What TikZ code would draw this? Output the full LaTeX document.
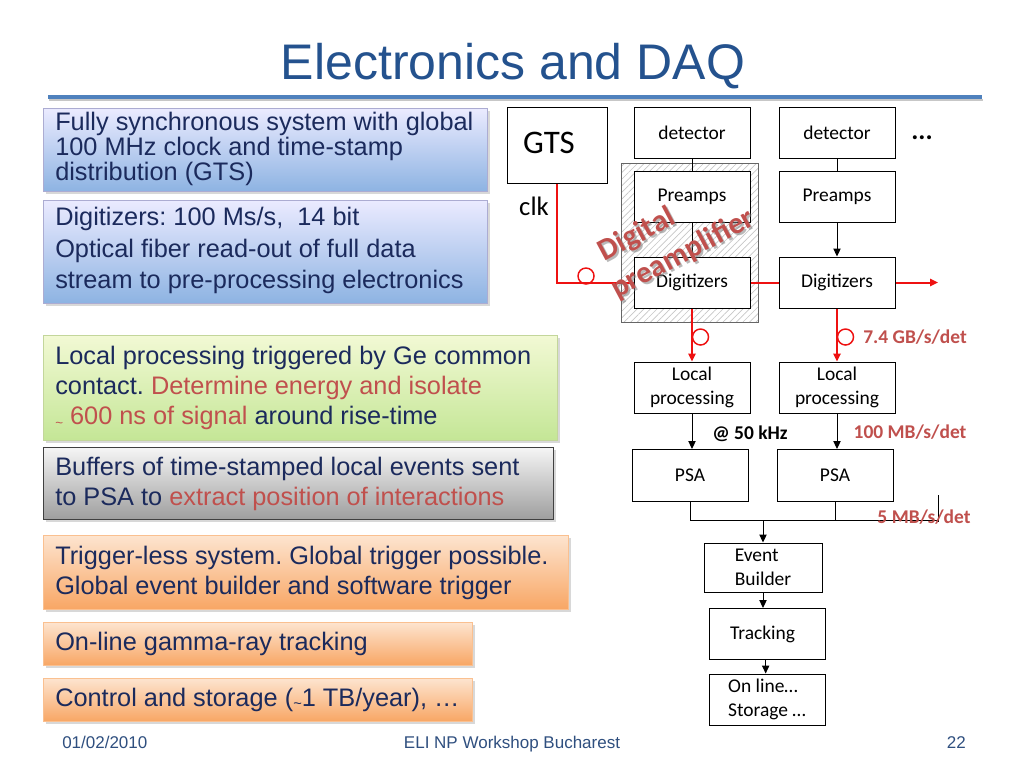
\documentclass[tikz,border=0pt]{standalone}
\usepackage{fontspec}
\setmainfont{Liberation Sans}
\newfontfamily\dfont{Carlito}
\usetikzlibrary{arrows.meta,patterns.meta,shadows,calc}
\frenchspacing
\definecolor{navy}{HTML}{1B2A5C}
\definecolor{rtxt}{HTML}{C0504D}
\definecolor{ttl}{HTML}{24528E}
\definecolor{rulec}{HTML}{4F81BD}
\definecolor{foot}{HTML}{2F4F7F}
\definecolor{wire}{HTML}{EE1111}
\tikzset{
  lbox/.style={anchor=north west, inner sep=0pt, line width=0.75pt,
    drop shadow={shadow xshift=1.5pt, shadow yshift=-1.5pt, opacity=0.3}},
  bluebox/.style={draw=blue!30!gray!50, top color=blue!8!white, bottom color={rgb,255:red,141;green,179;blue,226}},
  greenbox/.style={draw={rgb,255:red,195;green,214;blue,155}, top color={rgb,255:red,242;green,249;blue,212}, bottom color={rgb,255:red,196;green,230;blue,150}},
  graybox/.style={draw=black!75, top color=black!4, bottom color=black!38},
  orangebox/.style={draw={rgb,255:red,250;green,192;blue,144}, top color={rgb,255:red,253;green,228;blue,207}, bottom color={rgb,255:red,248;green,166;blue,100}},
  ltext/.style={anchor=west, align=left, inner sep=0pt, text=navy},
  dbox/.style={draw, line width=0.75pt, fill=white, minimum width=87pt, minimum height=38.25pt,
    inner sep=1pt, align=center, font=\dfont\fontsize{14.6}{18}\selectfont},
  dlabel/.style={inner sep=0pt, font=\dfont\bfseries\fontsize{14.6}{18}\selectfont},
  circ/.style={circle, draw=wire, line width=1.1pt, minimum size=12pt, inner sep=0pt},
  redw/.style={draw=wire, line width=1.5pt},
  blk/.style={draw, line width=0.75pt},
  tip/.style={-{Triangle[length=6pt,width=5.5pt]}},
  foottext/.style={inner sep=0pt, text=foot, font=\fontsize{12.75}{15}\selectfont},
  dpfont/.style={inner sep=0pt, rotate=28, font=\dfont\bfseries\fontsize{23}{26}\selectfont},
}
\begin{document}
\begin{tikzpicture}[x=0.75pt,y=-0.75pt]
\useasboundingbox[fill=white] (0,0) rectangle (1024,768);

% title
\node[anchor=base, inner sep=0pt, text=ttl, font=\fontsize{37.5}{40}\selectfont] (title) at (513,79) {Electronics and DAQ};
\draw[black!22, line width=2pt] (49,100) -- (983,100);
\draw[rulec, line width=2.4pt] (48,97) -- (982,97);

% left boxes
\node[lbox, bluebox, minimum width=444*0.75pt, minimum height=83*0.75pt] (b1) at (43,108) {};
\node[ltext, font=\fontsize{19}{15}\selectfont] (t1) at ([xshift=9pt,yshift=1pt]b1.west)
  {Fully synchronous system with global\\100 MHz clock and time-stamp\\distribution (GTS)};

\node[lbox, bluebox, minimum width=444*0.75pt, minimum height=103*0.75pt] (b2) at (43,200) {};
\node[ltext, font=\fontsize{19}{23.5}\selectfont] (t2) at ([xshift=9pt,yshift=1pt]b2.west)
  {Digitizers: 100 Ms/s,\ \ 14 bit\\Optical fiber read-out of full data\\stream to pre-processing electronics};

\node[lbox, greenbox, minimum width=514*0.75pt, minimum height=105*0.75pt] (b3) at (43,335) {};
\node[ltext, font=\fontsize{19}{22.75}\selectfont] (t3) at ([xshift=9pt]b3.west)
  {Local processing triggered by Ge common\\contact. \textcolor{rtxt}{Determine energy and isolate}\\\textcolor{rtxt}{\raisebox{-2pt}{\fontsize{10}{10}\selectfont\textasciitilde} 600 ns of signal} around rise-time};

\node[lbox, graybox, minimum width=510*0.75pt, minimum height=72*0.75pt] (b4) at (43,447) {};
\node[ltext, font=\fontsize{19}{22.5}\selectfont] (t4) at ([xshift=9pt]b4.west)
  {Buffers of time-stamped local events sent\\to PSA to \textcolor{rtxt}{extract position of interactions}};

\node[lbox, orangebox, minimum width=525*0.75pt, minimum height=74*0.75pt] (b5) at (43,535) {};
\node[ltext, font=\fontsize{19}{22.5}\selectfont] (t5) at ([xshift=9pt]b5.west)
  {Trigger-less system. Global trigger possible.\\Global event builder and software trigger};

\node[lbox, orangebox, minimum width=429*0.75pt, minimum height=43*0.75pt] (b6) at (43,622) {};
\node[ltext, font=\fontsize{19}{22.5}\selectfont] (t6) at ([xshift=9pt]b6.west)
  {On-line gamma-ray tracking};

\node[lbox, orangebox, minimum width=429*0.75pt, minimum height=43*0.75pt] (b7) at (43,678) {};
\node[ltext, font=\fontsize{19}{22.5}\selectfont] (t7) at ([xshift=9pt]b7.west)
  {Control and storage (\raisebox{-1.5pt}{\fontsize{11}{11}\selectfont\textasciitilde}1 TB/year), …};

% diagram
\path[fill=white, draw=black!60, line width=0.75pt] (621,163) rectangle (758,322);
\path[pattern={Lines[angle=45, distance=3.5pt, line width=0.5pt]}, pattern color=black!22] (621,163) rectangle (758,322);
\draw[black!60, line width=0.75pt] (621,163) rectangle (758,322);

\node[dbox, minimum width=75pt, minimum height=57pt] (gts) at (557,145) {};
\node[inner sep=0pt, font=\dfont\fontsize{24.7}{28}\selectfont] (gtst) at (549,143) {GTS};
\node[inner sep=0pt, font=\dfont\fontsize{20}{24}\selectfont] (clk) at (534,206) {clk};

\node[dbox] (det1) at (692,132.5) {detector};
\node[dbox] (det2) at (837,132.5) {detector};
\node[anchor=base, inner sep=0pt, font=\dfont\bfseries\fontsize{20}{24}\selectfont] (dots) at (922,139) {...};
\node[dbox] (pre1) at (692,196.5) {Preamps};
\node[dbox] (pre2) at (837,196.5) {Preamps};
\node[dbox] (dig1) at (692,282.5) {Digitizers};
\node[dbox] (dig2) at (837,282.5) {Digitizers};
\node[dbox] (loc1) at (692,387.5) {Local\\processing};
\node[dbox] (loc2) at (837,387.5) {Local\\processing};
\node[dbox, minimum height=39pt] (psa1) at (690,475.5) {PSA};
\node[dbox, minimum height=39pt] (psa2) at (835,475.5) {PSA};
\node[dbox, minimum width=88.5pt, minimum height=36.75pt, align=left] (eb) at (763,567.5) {Event\\Builder};
\node[dbox, minimum height=38.25pt] (trk) at (767,634) {Tracking\ \ };
\node[dbox, minimum height=38.25pt, align=left] (onl) at (767,699.5) {On line…\\Storage …};

% black connectors
\draw[blk] (det1) -- (pre1);
\draw[blk] (pre1) -- (dig1);
\draw[blk] (det2) -- (pre2);
\draw[blk, tip] (pre2) -- (dig2);
\draw[blk, tip] (loc1.south) -- (loc1.south |- psa1.north);
\draw[blk, tip] (loc2.south) -- (loc2.south |- psa2.north);
\coordinate (bend) at (938,520);
\coordinate (tickt) at (938,495);
\draw[blk] (psa1.south) |- (bend);
\draw[blk] (psa2.south) -- (psa2.south |- bend);
\draw[blk] (tickt) -- ([yshift=-1.5pt]bend);
\draw[blk, tip] (eb.north |- bend) -- (eb.north);
\draw[blk, tip] (eb.south) -- (eb.south |- trk.north);
\draw[blk, tip] ([xshift=-1pt]trk.south) -- ([xshift=-1pt]trk.south |- onl.north);

% red connectors
\draw[redw] (gts.south) |- (dig1.west);
\draw[redw] (dig1.east) -- (dig2.west);
\coordinate (out) at (938,282.5);
\draw[redw, tip] (dig2.east) -- (out);
\draw[redw, tip] (dig1.south) -- (loc1.north);
\draw[redw, tip] (dig2.south) -- (loc2.north);
\node[circ] (c1) at (586,276) {};
\node[circ] (c2) at (700.5,337) {};
\node[circ] (c3) at (845.5,337) {};

% labels
\node[dlabel, text=rtxt] (l1) at (915,337) {7.4 GB/s/det};
\node[dlabel] (l2) at (750,434) {@ 50 kHz};
\node[dlabel, text=rtxt] (l3) at (910,432) {100 MB/s/det};
\node[dlabel, text=rtxt] (l4) at (924,517) {5 MB/s/det};

% digital preamplifier
\node[dpfont, text=black!50, opacity=0.55] (dgs) at (639,237) {Digital};
\node[dpfont, text=black!50, opacity=0.55] (pas) at (685,256) {preamplifier};
\node[dpfont, text=rtxt] (dg) at (637,235) {Digital};
\node[dpfont, text=rtxt] (pa) at (683,254) {preamplifier};

% footer
\node[foottext, anchor=base west] (f1) at (62,748) {01/02/2010};
\node[foottext, anchor=base] (f2) at (512,748) {ELI NP Workshop Bucharest};
\node[foottext, anchor=base east] (f3) at (966,748) {22};
\end{tikzpicture}
\end{document}
